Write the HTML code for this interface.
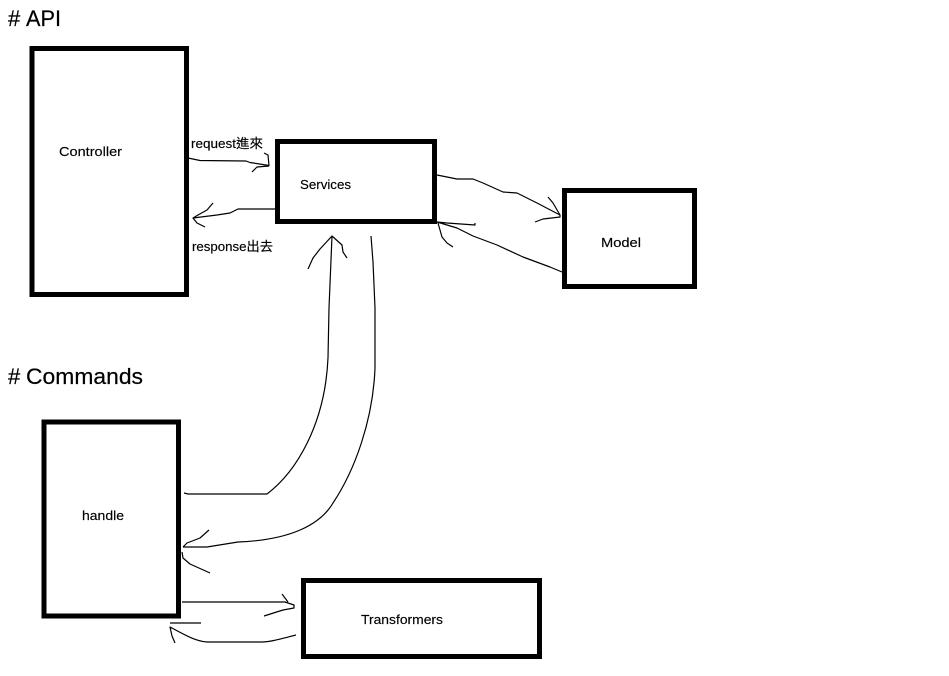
<!DOCTYPE html>
<html>
<head>
<meta charset="utf-8">
<style>
html,body{margin:0;padding:0;background:#fff;width:949px;height:676px;overflow:hidden}
svg{display:block}
text{font-family:"Liberation Sans","Noto Sans CJK TC",sans-serif;fill:#000}
.t{font-size:13px;stroke:#000;stroke-width:.15}
.h{font-size:22px;stroke:#000;stroke-width:.2}
.b{fill:none;stroke:#000;stroke-width:5}
.l{fill:none;stroke:#000;stroke-width:1.2;stroke-linejoin:round}
</style>
</head>
<body>
<svg width="949" height="676" viewBox="0 0 949 676" xmlns="http://www.w3.org/2000/svg">
<rect width="949" height="676" fill="#fff"/>
<rect class="b" x="32" y="48.500" width="154.500" height="246"/>
<rect class="b" x="277.500" y="141.500" width="157" height="80"/>
<rect class="b" x="564.500" y="190.500" width="130" height="96"/>
<rect class="b" x="44" y="422" width="134.500" height="194"/>
<rect class="b" x="303.500" y="580.500" width="236" height="76"/>

<text class="h" x="8" y="26">#</text><text class="h" x="26" y="26" textLength="35" lengthAdjust="spacingAndGlyphs">API</text>
<text class="h" x="8" y="384">#</text><text class="h" x="26" y="384" textLength="117" lengthAdjust="spacingAndGlyphs">Commands</text>
<text class="t" x="59" y="156" textLength="63" lengthAdjust="spacingAndGlyphs">Controller</text>
<text class="t" x="300" y="189" textLength="51" lengthAdjust="spacingAndGlyphs">Services</text>
<text class="t" x="601" y="247" textLength="40" lengthAdjust="spacingAndGlyphs">Model</text>
<text class="t" x="82" y="520" textLength="42" lengthAdjust="spacingAndGlyphs">handle</text>
<text class="t" x="361" y="624" textLength="82" lengthAdjust="spacingAndGlyphs">Transformers</text>
<text class="t" x="191" y="148" textLength="72" lengthAdjust="spacingAndGlyphs">request進來</text>
<text class="t" x="192" y="251" textLength="81" lengthAdjust="spacingAndGlyphs">response出去</text>

<path class="l" d="M188 158 L200 160.500 L246 161 L250 162.500 L269 165.500 L268 155 L264 153"/>
<path class="l" d="M269 166 L257 167 L252 172"/>
<path class="l" d="M275 209 L238 209 L230 213 L217 215 L193 218 L198 215 L207 210 L213 203"/>
<path class="l" d="M193 218 L197 223 L205 227"/>
<path class="l" d="M437 175 L457 179 L473 179 L483 183 L503 192 L517 193 L537 203 L560 215"/>
<path class="l" d="M548 197 L553 203 L560 215 L560 217 L543 219 L535 222"/>
<path class="l" d="M562 272 L550 267 L523 257 L497 245 L473 236 L457 228 L437 222 L447 223 L475 225 L475 223"/>
<path class="l" d="M438 223 L442 237 L447 243 L453 247"/>
<path class="l" d="M184 493 L188 494 L267 494 C296 472 325 425 328 358 L329 308 L332 236"/>
<path class="l" d="M308 269 L313 258 L320 249 L332 236 L342 245 L343 252 L347 258"/>
<path class="l" d="M371 236 L373 262 L375 308 L375 368 C373 420 355 470 333 503 C320 525 290 540 238 542 L207 547 L183 547"/>
<path class="l" d="M209 530 L200 538 L187 543 L183 547"/>
<path class="l" d="M182 552 L183 558 L190 564 L210 573"/>
<path class="l" d="M182 602 L285 602 L294 605 L294 608 L283 610 L264 616"/>
<path class="l" d="M282 594 L288 602"/>
<path class="l" d="M296 635 C280 639 270 642 262 642 L207 642 C195 641 185 635 170 627 L172 636 L175 643"/>
<path class="l" d="M170 623 L201 623"/>
</svg>
</body>
</html>
